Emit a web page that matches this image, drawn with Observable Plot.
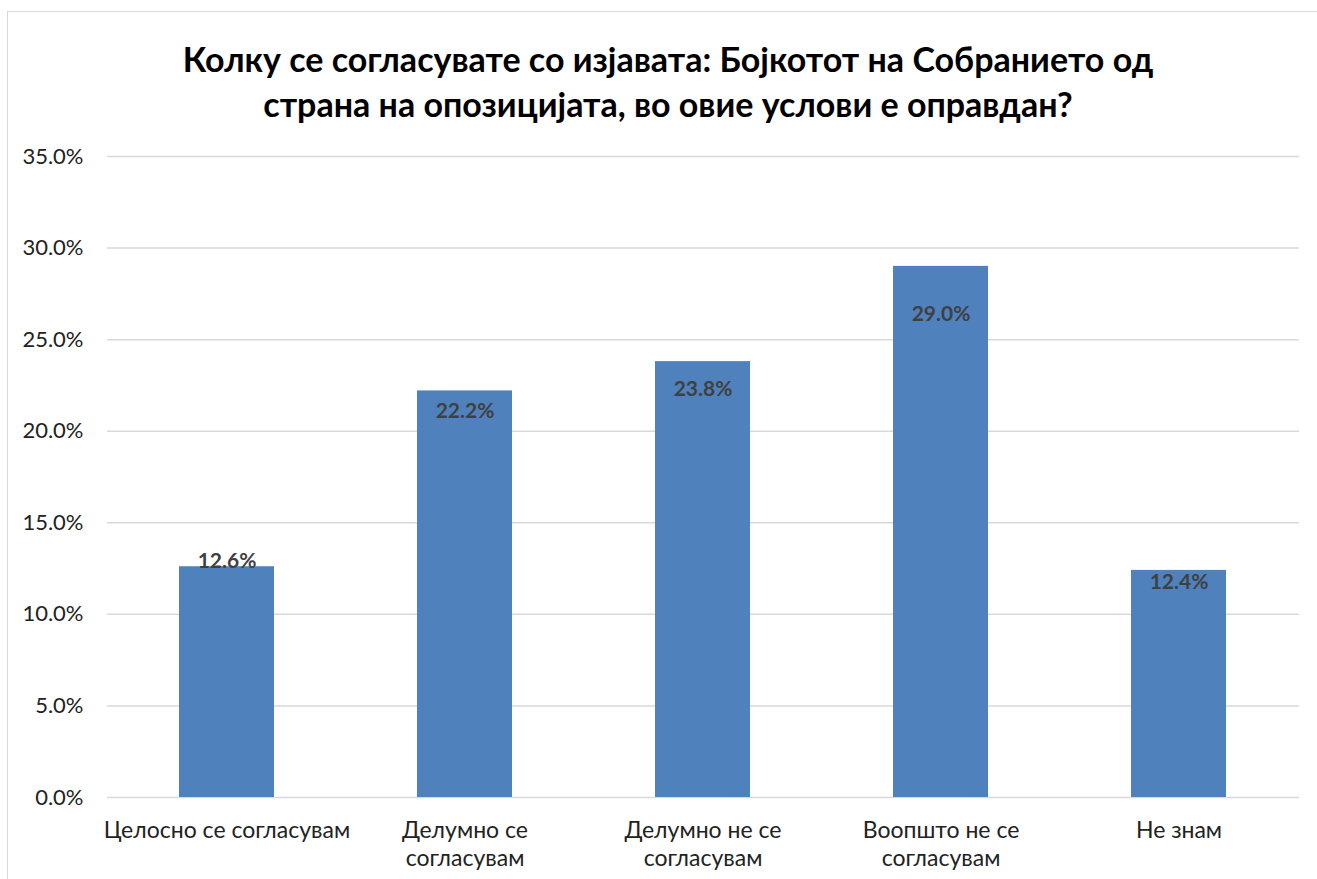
<!DOCTYPE html>
<html><head><meta charset="utf-8">
<script src="https://cdn.jsdelivr.net/npm/d3@7"></script>
<script src="https://cdn.jsdelivr.net/npm/@observablehq/plot@0.6"></script>
<style>
body{margin:0;background:#fff;font-family:Lato,sans-serif;width:1317px;height:879px;overflow:hidden;position:relative;}
#frame{position:absolute;left:7px;top:11px;width:1330px;height:890px;border-left:1.5px solid #d9d9d9;border-top:1.5px solid #d9d9d9;box-sizing:border-box;}
#title{position:absolute;left:0;top:0;width:1336px;height:130px;box-sizing:border-box;padding-top:36px;text-align:center;font-weight:bold;font-size:34px;line-height:45px;color:#000;white-space:nowrap;}
#chart{position:absolute;left:0;top:130px;}
</style>
</head><body>
<div id="frame"></div>
<div id="title">Колку се согласувате со изјавата: Бојкотот на Собранието од<br>страна на опозицијата, во овие услови е оправдан?</div>
<div id="chart"></div>
<script>
const categories = ["Целосно се согласувам", "Делумно се\nсогласувам", "Делумно не се\nсогласувам", "Воопшто не се\nсогласувам", "Не знам"];
const values = [0.126, 0.222, 0.238, 0.290, 0.124];
const labelY = [0.129, 0.211, 0.223, 0.264, 0.1175];
const yTicks = [0, 0.05, 0.10, 0.15, 0.20, 0.25, 0.30, 0.35];

const data = categories.map((c, i) => ({cat: c, val: values[i], ly: labelY[i]}));
const fmt = d3.format(".1%");

const chart = Plot.plot({
  width: 1317,
  height: 749,
  marginTop: 26,
  marginBottom: 82,
  marginLeft: 107,
  marginRight: 18,
  style: {fontFamily: "Lato, sans-serif", background: "transparent"},
  x: {domain: categories, paddingInner: 0.6, paddingOuter: 0.3, label: null},
  y: {domain: [0, 0.35], label: null},
  marks: [
    Plot.ruleY(yTicks, {stroke: "#d9d9d9", strokeWidth: 1.5}),
    Plot.barY(data, {x: "cat", y: "val", fill: "#4f81bd"}),
    Plot.text(data, {x: "cat", y: "ly", text: d => fmt(d.val), fontWeight: "bold", fontSize: 21, fill: "#404040"}),
    Plot.axisY({ticks: yTicks, tickFormat: fmt, tickSize: 0, tickPadding: 24, fontSize: 22, fill: "#222", label: null}),
    Plot.axisX({tickSize: 0, tickPadding: 21, fontSize: 23, lineHeight: 1.22, fill: "#222", label: null})
  ]
});
document.getElementById("chart").appendChild(chart);
</script>
</body></html>
